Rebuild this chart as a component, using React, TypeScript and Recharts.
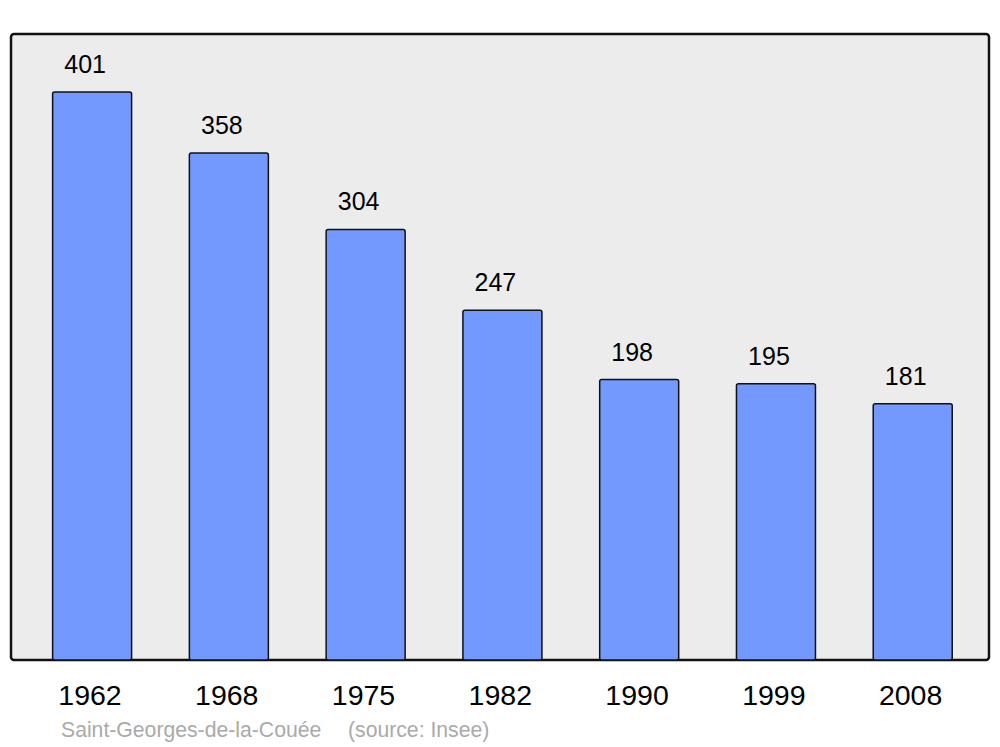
import React from "react";
import { BarChart, Bar, XAxis, YAxis, LabelList } from "recharts";

const years = ["1962", "1968", "1975", "1982", "1990", "1999", "2008"];
const population = [401, 358, 304, 247, 198, 195, 181];
const commune = "Saint-Georges-de-la-Couée";
const source = "(source: Insee)";

const data = years.map((y, i) => ({ year: y, value: population[i] }));

const FONT = "'Liberation Sans', Arial, sans-serif";

const Tick = (props: any) => {
  const { x, payload } = props;
  return (
    <text x={x - 2} y={705} textAnchor="middle" fontSize={28.5} fill="#000" fontFamily={FONT}>
      {payload.value}
    </text>
  );
};

const ValueLabel = (props: any) => {
  const { x, y, width, value } = props;
  return (
    <text x={x + width / 2 - 7} y={y - 19} textAnchor="middle" fontSize={25} fill="#000" fontFamily={FONT}>
      {value}
    </text>
  );
};

export default function App() {
  return (
    <div style={{ position: "absolute", left: 0, top: 0, width: 1000, height: 747, background: "#fff", fontFamily: FONT }}>
      <svg width={1000} height={747} style={{ position: "absolute", left: 0, top: 0 }}>
        <rect x={11} y={34} width={978} height={626} rx={3} ry={3} fill="#ececec" stroke="#111" strokeWidth={2.5} />
        <text x={61} y={737} fontSize={21.2} fill="#aaaaaa" fontFamily={FONT}>{commune}</text>
        <text x={348} y={737} fontSize={21.2} fill="#aaaaaa" fontFamily={FONT}>{source}</text>
      </svg>
      <div style={{ position: "absolute", left: 0, top: 0 }}>
        <BarChart width={1000} height={747} data={data} margin={{ top: 34, right: 19, left: 23.6, bottom: 0 }} barCategoryGap={0}>
          <XAxis dataKey="year" height={87} axisLine={false} tickLine={false} tick={<Tick />} interval={0} />
          <YAxis hide domain={[0, 442]} allowDataOverflow />
          <Bar dataKey="value" fill="#7399ff" stroke="#111" strokeWidth={1.5} barSize={79} radius={2} isAnimationActive={false}>
            <LabelList dataKey="value" content={<ValueLabel />} />
          </Bar>
        </BarChart>
      </div>
    </div>
  );
}
